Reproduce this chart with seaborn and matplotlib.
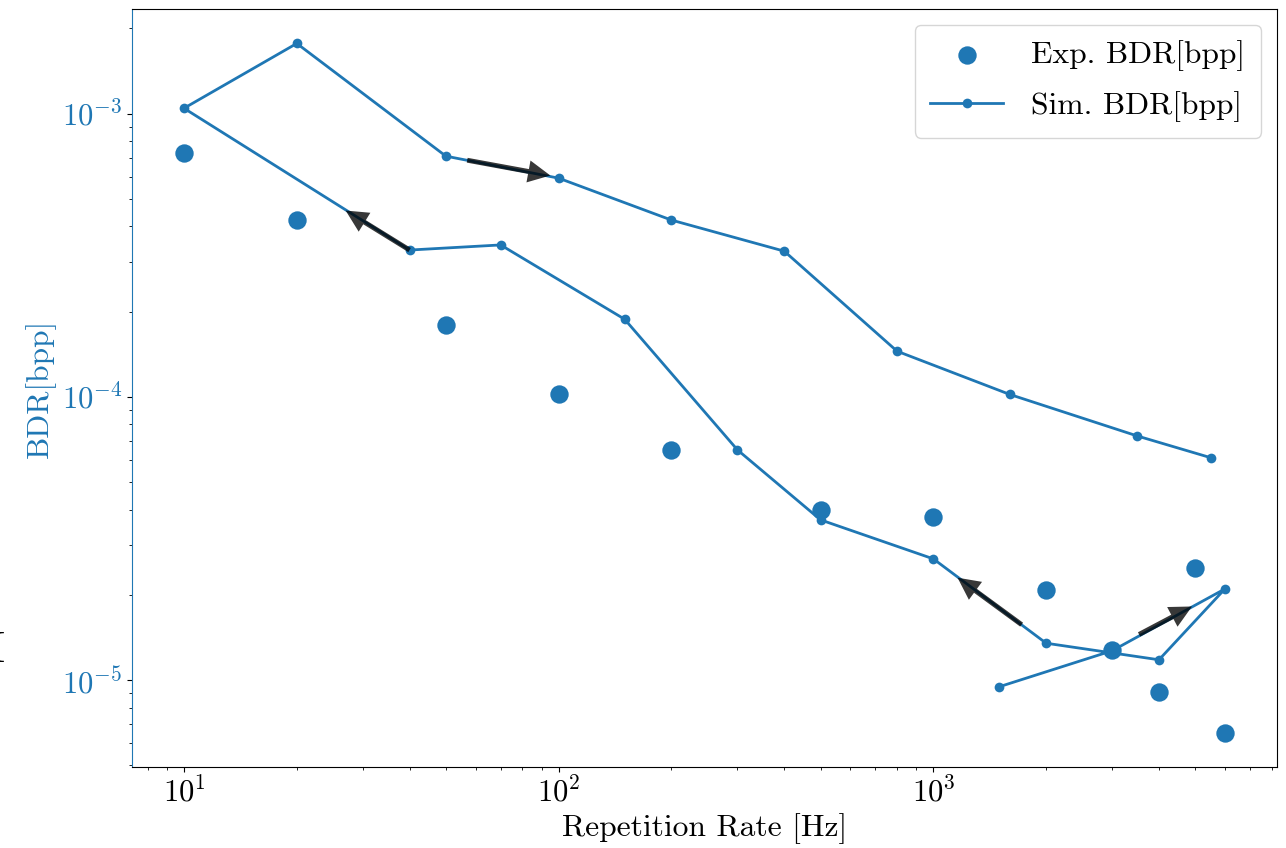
import matplotlib
matplotlib.use("Agg")
import matplotlib.pyplot as plt
import seaborn as sns
import pandas as pd

# Measured bit-defect rate versus repetition rate
exp_rate_hz = [10, 20, 50, 100, 200, 500, 1000, 2000, 3000, 4000, 5000, 6000]
exp_bdr = [7.26e-4, 4.21e-4, 1.80e-4, 1.02e-4, 6.50e-5, 3.99e-5, 3.77e-5,
           2.08e-5, 1.28e-5, 9.1e-6, 2.49e-5, 6.53e-6]

# Simulated sweep, in the order the rate was stepped
sim_rate_hz = [1500, 3000, 6000, 4000, 2000, 1000, 500, 300, 150, 70, 40,
               10, 20, 50, 100, 200, 400, 800, 1600, 3500, 5500]
sim_bdr = [9.48e-6, 1.27e-5, 2.10e-5, 1.18e-5, 1.35e-5, 2.68e-5, 3.68e-5,
           6.50e-5, 1.88e-4, 3.44e-4, 3.30e-4, 1.045e-3, 1.77e-3, 7.08e-4,
           5.92e-4, 4.21e-4, 3.27e-4, 1.45e-4, 1.02e-4, 7.28e-5, 6.10e-5]

# Sweep-direction arrows: (tail, head) in data units
arrow_tails = [(57, 6.85e-4), (40, 3.30e-4), (1720, 1.57e-5), (3540, 1.45e-5)]
arrow_heads = [(95, 6.05e-4), (27, 4.55e-4), (1160, 2.30e-5), (4900, 1.82e-5)]

plt.rcParams["font.family"] = ["cmr10", "DejaVu Serif"]
plt.rcParams["mathtext.fontset"] = "cm"
plt.rcParams["axes.formatter.use_mathtext"] = True
plt.rcParams["font.size"] = 22
plt.rcParams["axes.unicode_minus"] = True

blue = "#1f77b4"
label_size = 22.7

fig = plt.figure(figsize=(12.86, 8.48), dpi=100)
ax = fig.add_axes([0.1026, 0.0955, 0.993 - 0.1026, 0.9894 - 0.0955])

exp_df = pd.DataFrame({"rate": exp_rate_hz, "bdr": exp_bdr})
sim_df = pd.DataFrame({"rate": sim_rate_hz, "bdr": sim_bdr})

sns.scatterplot(data=exp_df, x="rate", y="bdr", ax=ax, color=blue, s=175,
                linewidth=0, label="Exp. BDR[bpp]", zorder=3)
sns.lineplot(data=sim_df, x="rate", y="bdr", ax=ax, color=blue, sort=False,
             estimator=None, marker="o", markersize=7, markeredgewidth=0,
             linewidth=2, label="Sim. BDR[bpp]", zorder=2)

ax.set_xscale("log")
ax.set_yscale("log")
ax.margins(0.05)

for (tx, ty), (hx, hy) in zip(arrow_tails, arrow_heads):
    ax.annotate("", xy=(hx, hy), xytext=(tx, ty),
                arrowprops=dict(facecolor="black", edgecolor="none", alpha=0.78,
                                width=3.5, headwidth=16, headlength=16, shrink=0),
                zorder=4)

ax.set_xlabel("Repetition Rate [Hz]", fontsize=label_size)
ax.set_ylabel("BDR[bpp]", color=blue, fontsize=label_size)
ax.tick_params(axis="y", which="both", labelcolor=blue)
ax.spines["left"].set_color(blue)

leg = ax.legend(loc="upper right", fontsize=label_size, handlelength=2.3,
                handletextpad=0.9, borderpad=0.5, labelspacing=0.62)

# Fragment of a label sitting at the very left edge of the canvas
fig.text(5.2 / 1286, 1 - 662 / 848, "I", ha="right", va="baseline",
         fontsize=32, color="black")

fig.savefig("out.png", dpi=100)
